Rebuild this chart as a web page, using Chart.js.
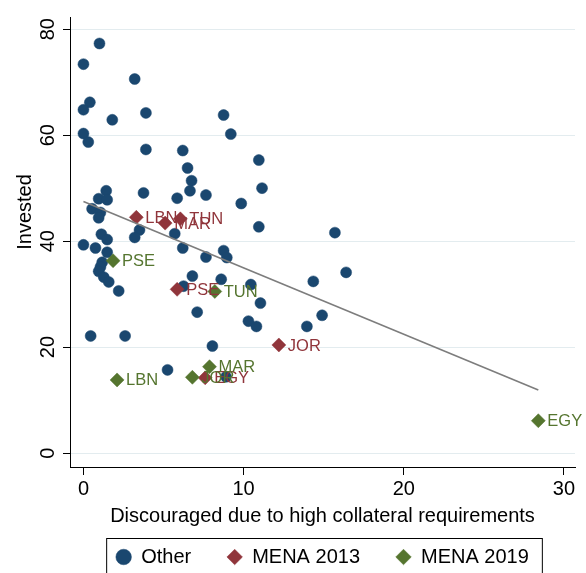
<!DOCTYPE html>
<html>
<head>
<meta charset="utf-8">
<script src="https://cdn.jsdelivr.net/npm/chart.js@4.4.1/dist/chart.umd.min.js"></script>
<style>
  html, body { margin: 0; padding: 0; background: #fff; overflow: hidden; }
</style>
</head>
<body>
<canvas id="myChart" width="586" height="594"></canvas>
<script>
// Other countries
const otherX = [1.0, 0.0, 3.2, 0.4, 0.0, 1.8, 3.9, 8.75, 9.2, 0.0, 0.3, 3.9, 6.2, 6.5, 10.95,
    6.75, 6.65, 7.65, 5.85, 3.75, 11.15, 9.85, 10.95, 15.7, 16.4, 14.35, 10.45,
    1.42, 0.95, 1.48, 0.54, 1.06, 0.95, 1.12, 1.48, 0.0, 0.75, 1.48, 1.17, 1.06, 0.95, 1.27, 1.58, 2.2,
    3.5, 3.2, 5.7, 6.2, 8.75, 8.95, 7.65, 6.8, 8.6, 6.25, 11.05, 7.1, 10.3, 10.8, 13.95, 14.9,
    8.05, 0.45, 2.6, 5.25, 8.9];
const otherY = [77.3, 73.4, 70.6, 66.2, 64.8, 62.9, 64.2, 63.8, 60.2, 60.3, 58.7, 57.3, 57.1, 53.8, 55.3,
    51.4, 49.5, 48.7, 48.1, 49.1, 50.0, 47.1, 42.7, 41.6, 34.1, 32.4, 31.8,
    49.5, 48.0, 47.8, 46.1, 45.4, 44.4, 41.3, 40.3, 39.3, 38.7, 37.9, 36.0, 35.1, 34.3, 33.2, 32.3, 30.6,
    42.1, 40.7, 41.4, 38.7, 38.2, 36.9, 37.0, 33.4, 32.8, 31.5, 28.3, 26.6, 24.9, 23.9, 23.9, 26.0,
    20.2, 22.1, 22.1, 15.7, 14.4];

// MENA 2013
const mena13Codes = ['LBN', 'MAR', 'TUN', 'PSE', 'JOR', 'EGY'];
const mena13X = [3.3, 5.1, 6.05, 5.85, 12.2, 7.6];
const mena13Y = [44.5, 43.4, 44.2, 30.9, 20.4, 14.2];

// MENA 2019
const mena19Codes = ['PSE', 'TUN', 'MAR', 'LBN', 'JOR', 'EGY'];
const mena19X = [1.85, 8.2, 7.87, 2.1, 6.8, 28.4];
const mena19Y = [36.3, 30.5, 16.3, 13.8, 14.3, 6.1];

// linear fit over the full x range
const fitX = [0, 28.4];
const fitY = [47.5, 11.9];

const xTicks = [0, 10, 20, 30];
const yTicks = [0, 20, 40, 60, 80];

const navy = '#1a476f';
const maroon = '#90353b';
const olive = '#55752f';
const fontFamily = "'Liberation Sans', Arial, sans-serif";

Chart.defaults.font.family = fontFamily;
Chart.defaults.color = '#000';

const toPoints = (xs, ys) => xs.map((x, i) => ({ x: x, y: ys[i] }));

// country codes to the right of the MENA markers, plus the y axis title
const markerLabels = {
    id: 'markerLabels',
    afterDatasetsDraw(chart) {
        const c = chart.ctx;
        c.save();
        c.font = '16.5px ' + fontFamily;
        c.textBaseline = 'middle';
        c.textAlign = 'left';
        chart.data.datasets.forEach((ds, i) => {
            if (!ds.codes) return;
            c.fillStyle = ds.borderColor;
            chart.getDatasetMeta(i).data.forEach((pt, j) => {
                c.fillText(ds.codes[j], pt.x + 9, pt.y + 1);
            });
        });
        c.restore();
    },
    afterDraw(chart) {
        const c = chart.ctx;
        const y = chart.scales.y;
        c.save();
        c.font = '20px ' + fontFamily;
        c.fillStyle = '#000';
        c.textAlign = 'center';
        c.textBaseline = 'middle';
        c.translate(y.left + 25, y.getPixelForValue(45.5));
        c.rotate(-Math.PI / 2);
        c.fillText('Invested', 0, 0);
        c.restore();
    }
};

// pull the legend up a little and put a box round it
const legendFrame = {
    id: 'legendFrame',
    afterLayout(chart) {
        const lg = chart.legend;
        lg.top -= 17;
        lg.bottom -= 17;
    },
    afterDraw(chart) {
        const boxes = chart.legend.legendHitBoxes;
        if (!boxes || !boxes.length) return;
        const first = boxes[0];
        const last = boxes[boxes.length - 1];
        const c = chart.ctx;
        c.save();
        c.strokeStyle = '#000';
        c.lineWidth = 1;
        c.strokeRect(first.left - 10 + 0.5, first.top - 9 + 0.5,
            last.left + last.width + 13 - (first.left - 10), chart.height);
        c.restore();
    }
};

const myChart = new Chart(document.getElementById('myChart').getContext('2d'), {
    type: 'scatter',
    data: {
        datasets: [
            {
                label: 'Other',
                data: toPoints(otherX, otherY),
                pointStyle: 'circle',
                pointRadius: 5.5,
                pointHoverRadius: 5.5,
                backgroundColor: navy,
                borderColor: navy,
                borderWidth: 0.5,
                order: 3
            },
            {
                label: 'MENA 2013',
                data: toPoints(mena13X, mena13Y),
                codes: mena13Codes,
                pointStyle: 'rectRot',
                pointRadius: 7,
                pointHoverRadius: 7,
                backgroundColor: maroon,
                borderColor: maroon,
                borderWidth: 0.5,
                order: 2
            },
            {
                label: 'MENA 2019',
                data: toPoints(mena19X, mena19Y),
                codes: mena19Codes,
                pointStyle: 'rectRot',
                pointRadius: 7,
                pointHoverRadius: 7,
                backgroundColor: olive,
                borderColor: olive,
                borderWidth: 0.5,
                order: 1
            },
            {
                type: 'line',
                label: 'Fitted values',
                data: toPoints(fitX, fitY),
                borderColor: '#7d7d7d',
                borderWidth: 1.6,
                pointRadius: 0,
                fill: false,
                order: 0
            }
        ]
    },
    options: {
        responsive: false,
        animation: false,
        layout: { padding: { left: 0, right: 11, top: 17, bottom: 0 } },
        plugins: {
            tooltip: { enabled: false },
            legend: {
                position: 'bottom',
                fullSize: false,
                labels: {
                    font: { size: 20 },
                    color: '#000',
                    usePointStyle: true,
                    boxWidth: 15,
                    boxHeight: 11,
                    padding: 36,
                    filter: item => item.text !== 'Fitted values',
                    sort: (a, b) => a.datasetIndex - b.datasetIndex
                }
            }
        },
        scales: {
            x: {
                type: 'linear',
                min: -0.84,
                max: 30.69,
                afterBuildTicks: s => { s.ticks = xTicks.map(v => ({ value: v })); },
                grid: { drawOnChartArea: false, tickLength: 8, tickColor: '#000', tickWidth: 1 },
                border: { color: '#000', width: 1 },
                ticks: { font: { size: 20 }, color: '#000', padding: 2, maxRotation: 0 },
                title: {
                    display: true,
                    text: 'Discouraged due to high collateral requirements',
                    font: { size: 20 },
                    color: '#000',
                    padding: { top: 1, bottom: 0 }
                }
            },
            y: {
                type: 'linear',
                min: -2.63,
                max: 82.3,
                afterBuildTicks: s => { s.ticks = yTicks.map(v => ({ value: v })); },
                afterFit: s => { s.width = 70; },
                grid: { color: '#e3ecef', lineWidth: 1, tickLength: 7, tickColor: '#000', tickWidth: 1 },
                border: { color: '#000', width: 1 },
                ticks: { font: { size: 20 }, color: '#000', padding: 3, minRotation: 90, maxRotation: 90, crossAlign: 'center' }
            }
        }
    },
    plugins: [markerLabels, legendFrame]
});
</script>
</body>
</html>
